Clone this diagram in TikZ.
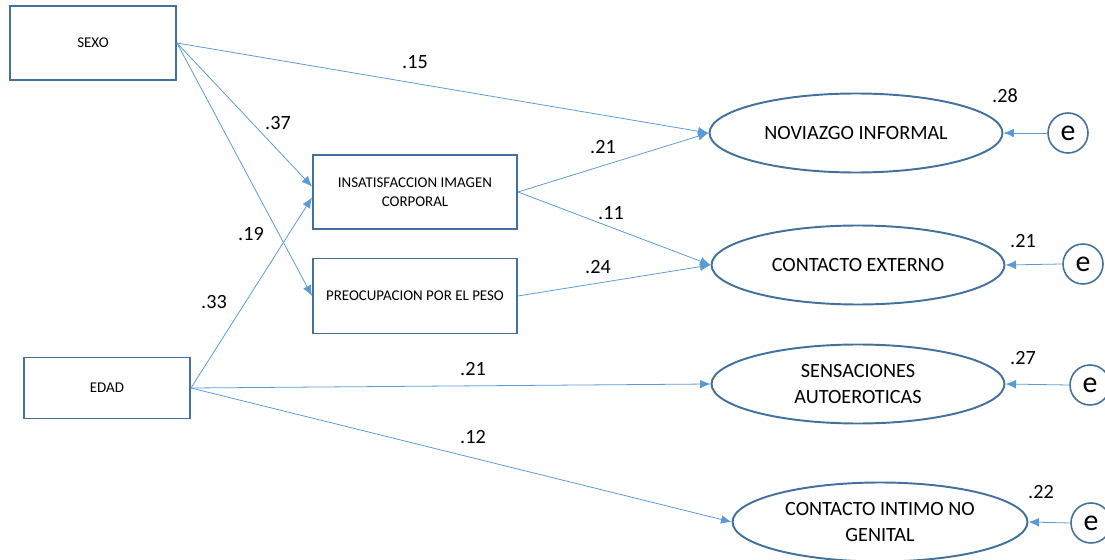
\documentclass[tikz,border=0pt]{standalone}
\usepackage{fontspec}
\setmainfont{Carlito}
\usepackage{tikz}
\definecolor{pathblue}{RGB}{91,155,213}
\definecolor{boxblue}{RGB}{65,113,156}
\tikzset{
    observed/.style={rectangle,draw=boxblue,line width=1.1pt,text centered,align=center,font=\fontsize{8.5}{10.5}\selectfont,inner sep=0pt},
    factor/.style={ellipse,draw=boxblue,line width=1.1pt,align=center,font=\fontsize{11.5}{14.5}\selectfont,inner sep=0pt,minimum width=5.86cm,minimum height=1.58cm},
    residual/.style={circle,draw=boxblue,line width=0.9pt,minimum size=0.8cm,inner sep=0pt,font=\fontsize{17}{17}\selectfont},
    coef/.style={font=\fontsize{11.5}{13}\selectfont,inner sep=0pt},
    path/.style={draw=pathblue,line width=0.45pt},
}
\usetikzlibrary{shapes.geometric,arrows.meta}
\usetikzlibrary{positioning}

\begin{document}
\begin{tikzpicture}[x=0.02cm,y=-0.02cm,>={Latex[length=6pt,width=5pt]}]
\useasboundingbox (0,0) rectangle (1105,560);
% exogenous variables
\node[observed,minimum width=3.32cm,minimum height=1.48cm] (sexo) at (93,43) {SEXO};
\node[observed,minimum width=3.32cm,minimum height=1.22cm] (edad) at (107,388) {EDAD};
% mediators
\node[observed,minimum width=4.08cm,minimum height=1.48cm] (insat) at (415,192) {INSATISFACCION IMAGEN\\CORPORAL};
\node[observed,minimum width=4.08cm,minimum height=1.5cm] (preoc) at (415,296) {PREOCUPACION POR EL PESO};
% outcomes
\node[factor] (novia) at (856,133) {NOVIAZGO INFORMAL};
\node[factor] (externo) at (858,265) {CONTACTO EXTERNO};
\node[factor] (sensa) at (858,384) {SENSACIONES\\AUTOEROTICAS};
\node[factor,minimum width=5.9cm] (intimo) at (880,522) {CONTACTO INTIMO NO\\GENITAL};
% errors
\node[residual] (e1) at (1068,133) {e};
\node[residual] (e2) at (1083,264) {e};
\node[residual] (e3) at (1090,385) {e};
\node[residual] (e4) at (1091,523) {e};
% paths
\draw[path,->] (sexo.east) -- (novia.west);
\draw[path,->] (sexo.east) -- (insat.177);
\draw[path,->] (sexo.east) -- (preoc.west);
\draw[path,->] (edad.east) -- (insat.183);
\draw[path,->] (edad.east) -- (sensa.west);
\draw[path,->] (edad.east) -- (intimo.west);
\draw[path,->] (insat.east) -- (novia.west);
\draw[path,->] (insat.east) -- (externo.west);
\draw[path,->] (preoc.east) -- (externo.west);
\foreach \e/\v in {e1/novia,e2/externo,e3/sensa,e4/intimo}
    \draw[path,->] (\e.west) -- (\v.east);
% coefficients
\node[coef] (c15) at (415,62) {.15};
\node[coef] (c37) at (278,123) {.37};
\node[coef] (c19) at (251,234) {.19};
\node[coef] (c33) at (214,302) {.33};
\node[coef] (c21a) at (603,147) {.21};
\node[coef] (c11) at (611,213) {.11};
\node[coef] (c24) at (598,267) {.24};
\node[coef] (c21b) at (473,369) {.21};
\node[coef] (c12) at (473,437) {.12};
\node[coef] (r28) at (1005,96) {.28};
\node[coef] (r21) at (1023,241) {.21};
\node[coef] (r27) at (1023,358) {.27};
\node[coef] (r22) at (1041,492) {.22};
\end{tikzpicture}
\end{document}
